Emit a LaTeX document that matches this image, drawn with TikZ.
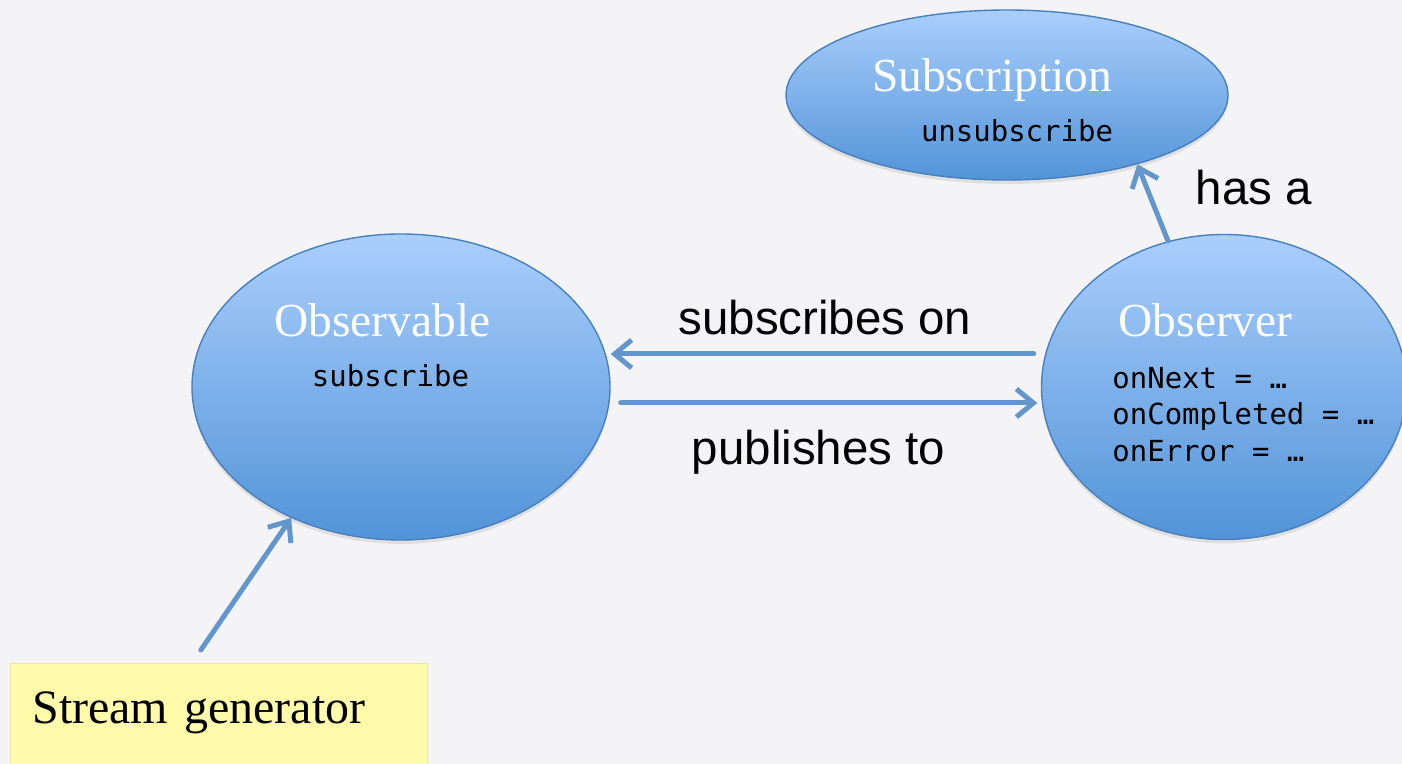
\documentclass[tikz,border=0pt]{standalone}
\usepackage{fontspec}
\setmainfont{Liberation Serif}
\setmonofont{DejaVu Sans Mono}
\newfontfamily\arialfont{Liberation Sans}
\usepackage{tikz}
\usetikzlibrary{arrows.meta,shapes.geometric,shadows}
\usepackage{tkz-euclide}

\definecolor{paper}{RGB}{244,244,246}
\definecolor{blobtop}{RGB}{170,206,252}
\definecolor{blobbot}{RGB}{82,148,216}
\definecolor{blobedge}{RGB}{72,128,190}
\definecolor{linkblue}{RGB}{98,150,204}
\definecolor{notepad}{RGB}{255,251,170}

\tikzset{
  blob/.style={ellipse,draw=blobedge,line width=0.8pt,top color=blobtop,bottom color=blobbot,inner sep=0pt,
    drop shadow={opacity=0.18,shadow xshift=0pt,shadow yshift=-0.08cm}},
  blobtitle/.style={anchor=base,text=white,font=\fontsize{27}{32}\selectfont},
  blobcode/.style={anchor=base,font=\ttfamily\fontsize{16.5}{20}\selectfont},
  linklabel/.style={anchor=base,font=\arialfont\fontsize{27}{32}\selectfont},
  linkarrow/.style={draw=linkblue,line width=0.1cm,line cap=round,-{Straight Barb[length=0.34cm,width=0.56cm]}},
  notebox/.style={rectangle,fill=notepad,draw=notepad!85!gray,thin,minimum width=8.34cm,text width=7.46cm,align=left,
    inner xsep=0.44cm,inner ysep=0.2cm,text height=1.0cm,text depth=0.8cm,font=\fontsize{27.3}{32}\selectfont}
}

\begin{document}
\begin{tikzpicture}[semithick]
\fill[paper] (0,0) rectangle (28.04,15.28);
\useasboundingbox (0,0) rectangle (28.04,15.28);
\tkzDefPoints{20.14/13.38/S,8.02/7.54/L,24.48/7.54/R,0.2/2.02/G}

\node[blob,minimum width=8.84cm,minimum height=3.4cm] (sub) at (S) {};
\node[blob,minimum width=8.36cm,minimum height=6.12cm] (obl) at (L) {};
\node[blob,minimum width=7.3cm,minimum height=6.1cm] (obr) at (R) {};
\node[notebox,anchor=north west] (gen) at (G) {Stream generator};

\node[blobtitle] (subT) at (19.84,13.44) {Subscription};
\node[blobcode] (subC) at (20.34,12.44) {unsubscribe};
\node[blobtitle] (oblT) at (7.65,8.54) {Observable};
\node[blobcode] (oblC) at (7.81,7.54) {subscribe};
\node[blobtitle] (obrT) at (24.11,8.54) {Observer};
\node[blobcode,anchor=base west] (obrN) at (22.12,7.50) {onNext = …};
\node[blobcode,anchor=base west] (obrC) at (22.12,6.78) {onCompleted = …};
\node[blobcode,anchor=base west] (obrE) at (22.12,6.04) {onError = …};

\draw[linkarrow,shorten <=0.14cm] ([yshift=0.66cm]obr.west)--([yshift=0.66cm]obl.east);
\draw[linkarrow,shorten >=0.07cm] ([xshift=0.2cm,yshift=-0.32cm]obl.east)--([yshift=-0.32cm]obr.west);
\draw[linkarrow] (obr.111)--(sub.-28);
\draw[linkarrow] ([xshift=-0.36cm,yshift=0.26cm]gen.north)--(obl.-130);

\node[linklabel] (subs) at (16.5,8.58) {subscribes on};
\node[linklabel] (pubs) at (16.37,5.98) {publishes to};
\node[linklabel] (hasa) at (25.08,11.18) {has a};
\end{tikzpicture}
\end{document}
